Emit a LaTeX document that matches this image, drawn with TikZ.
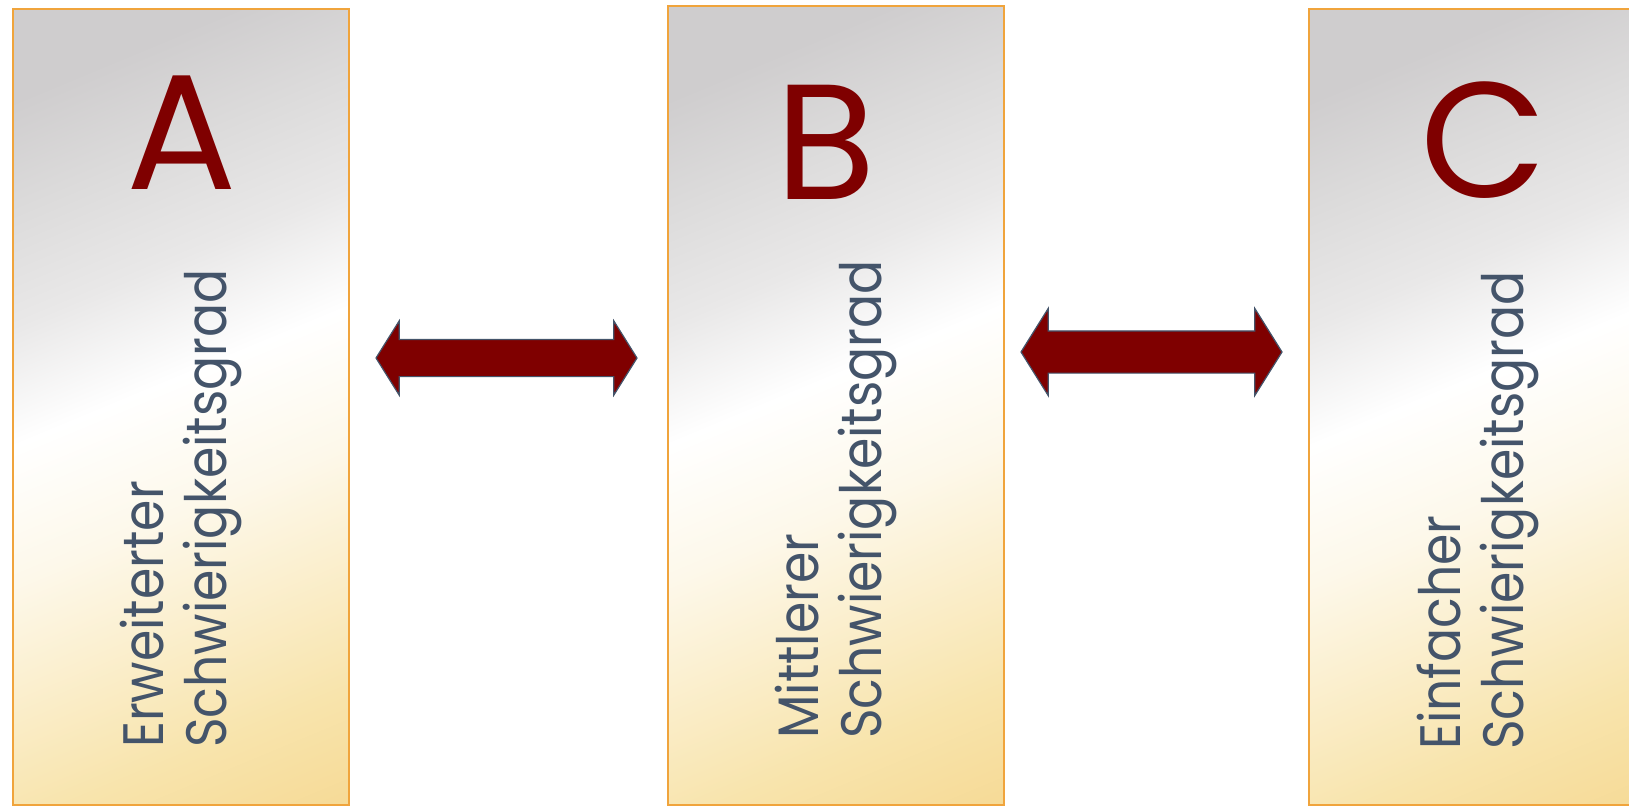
\documentclass[tikz,border=0pt]{standalone}
\usepackage{fontspec}
\setmainfont{Poppins}
\newfontfamily\stufenschrift[FakeStretch=0.885]{Poppins}
\usepackage{tikz}
\usetikzlibrary{shapes.arrows}

\definecolor{rahmen}{HTML}{F0A43C}
\definecolor{dunkelrot}{HTML}{7F0000}
\definecolor{schiefer}{HTML}{44546A}
\definecolor{grau1}{HTML}{CFCDCE}
\definecolor{grau2}{HTML}{DCDBDB}
\definecolor{grau3}{HTML}{E9E8E8}
\definecolor{creme}{HTML}{FDF8EA}
\definecolor{gold2}{HTML}{F8E4AC}
\definecolor{gold1}{HTML}{F6DA96}
\pgfdeclareverticalshading{stufenfarbe}{100bp}{color(0bp)=(gold1); color(25bp)=(gold1); color(31.3bp)=(gold2); color(44.3bp)=(creme); color(51.6bp)=(white); color(58bp)=(grau3); color(64bp)=(grau2); color(70bp)=(grau1); color(100bp)=(grau1)}

\begin{document}
\begin{tikzpicture}[x=1pt,y=1pt,
  stufe/.style={minimum width=336pt, inner sep=0pt},
  rand/.style={draw=rahmen, line width=1.5pt},
  buchstabe/.style={text=dunkelrot, anchor=base, inner sep=0pt, font=\fontsize{164}{164}\selectfont},
  stufentext/.style={text=schiefer, rotate=90, anchor=west, align=left, inner sep=0pt, font=\stufenschrift\fontsize{57}{63}\selectfont},
  pfeil/.style={double arrow, draw=schiefer, fill=dunkelrot, line width=1.2pt, double arrow tip angle=116, inner xsep=0pt, minimum height=261pt}]
\useasboundingbox (0,0) rectangle (1629,-806);
\clip (0,0) rectangle (1629,-806);
\node[stufe, minimum height=796pt] (BoxA) at (181,-407) {};
\node[stufe, minimum height=799pt] (BoxB) at (836,-405.5) {};
\node[stufe, minimum height=796pt] (BoxC) at (1477,-407) {};
\foreach \kasten in {BoxA,BoxB,BoxC} {
  \begin{scope}
    \clip (\kasten.south west) rectangle (\kasten.north east);
    \shade[shading=stufenfarbe, transform canvas={shift={(\kasten.center)}, rotate=22.6}] (-310,-434) rectangle (310,434);
  \end{scope}
  \draw[rand] (\kasten.south west) rectangle (\kasten.north east);
}
\node[buchstabe] (LetterA) at (182,-189) {A};
\node[buchstabe] (LetterB) at (826,-199) {B};
\node[buchstabe] (LetterC) at (1484,-197) {C};
\node[stufentext] (TextA) at (181.5,-748) {Erweiterter\\Schwierigkeitsgrad};
\node[stufentext] (TextB) at (836,-739) {Mittlerer\\Schwierigkeitsgrad};
\node[stufentext] (TextC) at (1478,-750) {Einfacher\\Schwierigkeitsgrad};
\node[pfeil, inner ysep=18pt, minimum width=73pt, double arrow head extend=18.5pt] (PfeilAB) at (506.5,-358) {};
\node[pfeil, inner ysep=20.5pt, minimum width=86pt, double arrow head extend=22.5pt] (PfeilBC) at (1151.5,-352) {};
\end{tikzpicture}
\end{document}
